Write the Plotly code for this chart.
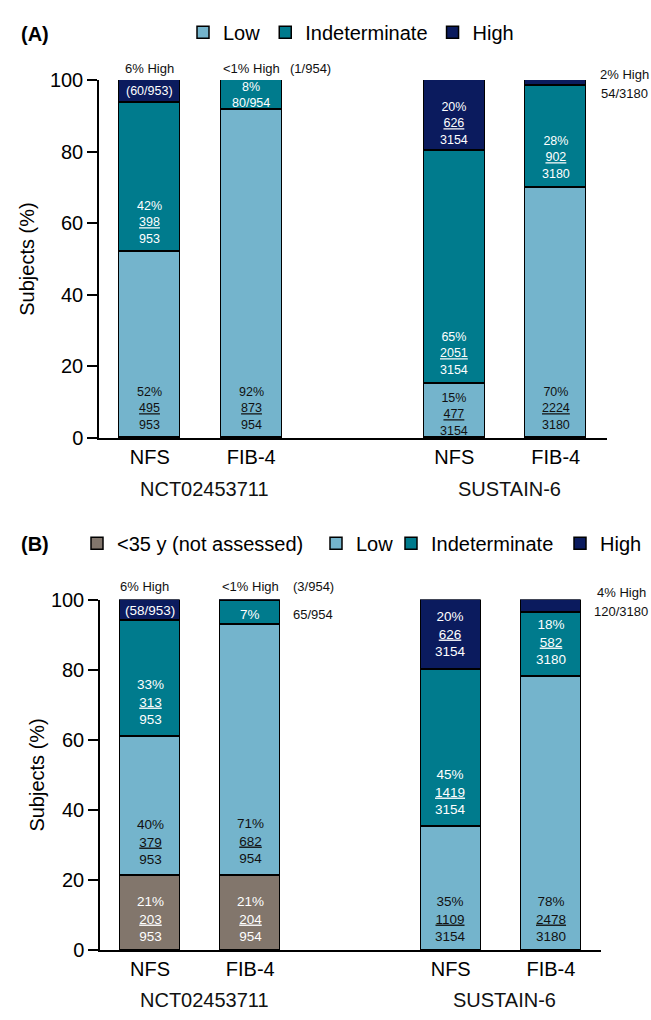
import plotly.graph_objects as go

# ---------------- data ----------------
studies = ["NCT02453711", "SUSTAIN-6"]
methods = ["NFS", "FIB-4", "NFS", "FIB-4"]
totals = [953, 954, 3154, 3180]

# Panel A
a_low = [495, 873, 477, 2224]
a_indeterminate = [398, 80, 2051, 902]
a_high = [60, 1, 626, 54]

# Panel B
b_under35 = [203, 204, None, None]
b_low = [379, 682, 1109, 2478]
b_indeterminate = [313, 65, 1419, 582]
b_high = [58, 3, 626, 120]

y_ticks = [0, 20, 40, 60, 80, 100]

# ---------------- style ----------------
FONT = "Liberation Sans, Arial, Helvetica, sans-serif"
C_UNDER = "#82766C"
C_LOW = "#74B4CC"
C_IND = "#007B8D"
C_HIGH = "#0B1B5E"
W, H = 651, 1020
bar_x = [0, 1, 3, 4]
study_x = [0.54, 3.54]
X_RANGE = [-0.5, 4.5]
DOM_A = [99 / W, 606.5 / W]
DOM_B = [100 / W, 601 / W]


def pct(n, t):
    return None if n is None else n / t * 100


def pcts(counts):
    return [pct(n, t) for n, t in zip(counts, totals)]


def to_paper(xd, dom):
    return dom[0] + (xd - X_RANGE[0]) / (X_RANGE[1] - X_RANGE[0]) * (dom[1] - dom[0])


fig = go.Figure()


def add_bar(name, counts, color, xa, ya, legend):
    fig.add_trace(go.Bar(
        x=bar_x, y=pcts(counts), name=name, width=0.6,
        marker=dict(color=color, line=dict(color="black", width=1.5)),
        xaxis=xa, yaxis=ya, legend=legend, hoverinfo="skip"))


add_bar("Low", a_low, C_LOW, "x", "y", "legend")
add_bar("Indeterminate", a_indeterminate, C_IND, "x", "y", "legend")
add_bar("High", a_high, C_HIGH, "x", "y", "legend")

add_bar("<35 y (not assessed)", b_under35, C_UNDER, "x2", "y2", "legend2")
add_bar("Low", b_low, C_LOW, "x2", "y2", "legend3")
add_bar("Indeterminate", b_indeterminate, C_IND, "x2", "y2", "legend4")
add_bar("High", b_high, C_HIGH, "x2", "y2", "legend5")

anns = []


def ann(x, y, text, xa, ya, color="white", size=12.5, xanchor="center",
        yanchor="middle", yshift=0):
    anns.append(dict(x=x, y=y, xref=xa, yref=ya, text=text, showarrow=False,
                     xanchor=xanchor, yanchor=yanchor, yshift=yshift,
                     font=dict(family=FONT, size=size, color=color)))


def frac3(n, t):
    return f"{round(n / t * 100)}%<br><u>{n}</u><br>{t}"


DARK = "#111111"

# ---- panel A labels ----
xa, ya, fs = "x", "y", 12.5
for i in range(4):
    t = totals[i]
    lo, ind, hi = a_low[i], a_indeterminate[i], a_high[i]
    base_ind = pct(lo, t)
    base_hi = pct(lo + ind, t)
    ann(bar_x[i], 0, frac3(lo, t), xa, ya, color=DARK, size=fs,
        yshift=24 if i == 2 else 30)
    if i == 1:
        ann(bar_x[i], (base_ind + base_hi) / 2,
            f"{round(pct(ind, t))}%<br>{ind}/{t}", xa, ya, size=fs)
    else:
        ann(bar_x[i], base_ind, frac3(ind, t), xa, ya, size=fs, yshift=30)
    if i == 0:
        ann(bar_x[i], (base_hi + 100) / 2, f"({hi}/{t})", xa, ya, size=fs)
        ann(bar_x[i], 100, f"{round(pct(hi, t))}% High", xa, ya,
            color=DARK, size=13, yshift=11)
    elif i == 1:
        ann(bar_x[i] - 0.3, 100, "<1% High", xa, ya,
            color=DARK, size=13, xanchor="left", yshift=11)
        ann(1.36, 100, f"({hi}/{t})", xa, ya,
            color=DARK, size=13, xanchor="left", yshift=11)
    elif i == 2:
        ann(bar_x[i], base_hi, frac3(hi, t), xa, ya, size=fs, yshift=28)
    else:
        px_ = to_paper(4.68, DOM_A)
        ann(px_, 100, f"{round(pct(hi, t))}% High", "paper", ya,
            color=DARK, size=13, yshift=5.5)
        ann(px_, 100, f"{hi}/{t}", "paper", ya, color=DARK, size=13,
            yshift=-13.5)

# ---- panel B labels ----
xa, ya, fs = "x2", "y2", 13.5
for i in range(4):
    t = totals[i]
    yo = b_under35[i] or 0
    lo, ind, hi = b_low[i], b_indeterminate[i], b_high[i]
    base_lo = pct(yo, t)
    base_ind = pct(yo + lo, t)
    base_hi = pct(yo + lo + ind, t)
    if yo:
        ann(bar_x[i], 0, frac3(yo, t), xa, ya, size=fs, yshift=31)
    ann(bar_x[i], base_lo, frac3(lo, t), xa, ya, color=DARK, size=fs,
        yshift=34 if yo else 31)
    if i == 1:
        ann(bar_x[i], (base_ind + base_hi) / 2 - 0.6,
            f"{round(pct(ind, t))}%", xa, ya, size=fs)
        ann(1.41, (base_ind + base_hi) / 2 - 0.6, f"{ind}/{t}", xa, ya,
            color=DARK, size=13, xanchor="left")
    else:
        ann(bar_x[i], base_ind, frac3(ind, t), xa, ya, size=fs, yshift=34.5)
    if i == 0:
        ann(bar_x[i], (base_hi + 100) / 2, f"({hi}/{t})", xa, ya, size=fs)
        ann(bar_x[i] - 0.06, 100, f"{round(pct(hi, t))}% High", xa, ya,
            color=DARK, size=13, yshift=13)
    elif i == 1:
        ann(bar_x[i] - 0.3, 100, "<1% High", xa, ya,
            color=DARK, size=13, xanchor="left", yshift=13)
        ann(1.41, 100, f"({hi}/{t})", xa, ya,
            color=DARK, size=13, xanchor="left", yshift=13)
    elif i == 2:
        ann(bar_x[i], base_hi, frac3(hi, t), xa, ya, size=fs, yshift=35)
    else:
        px_ = to_paper(4.70, DOM_B)
        ann(px_, 100, f"{round(pct(hi, t))}% High", "paper", ya,
            color=DARK, size=13, yshift=7.5)
        ann(px_, 100, f"{hi}/{t}", "paper", ya, color=DARK, size=13,
            yshift=-11.8)

# study group labels
for xa, ya, shift in [("x", "y", -50.5), ("x2", "y2", -50)]:
    for sx, s in zip(study_x, studies):
        ann(sx, 0, s, xa, ya, color=DARK, size=20, yshift=shift)

# panel letters
for letter, ypx in [("(A)", 24), ("(B)", 545)]:
    anns.append(dict(x=19 / W, y=1 - ypx / H, xref="paper", yref="paper",
                     text=f"<b>{letter}</b>", showarrow=False, xanchor="left",
                     yanchor="middle",
                     font=dict(family=FONT, size=20, color="black")))

xcommon = dict(range=X_RANGE, tickvals=bar_x, ticktext=methods,
               showline=True, linecolor="black", linewidth=1.5, ticks="",
               showgrid=False, zeroline=False, fixedrange=True,
               tickfont=dict(family=FONT, size=20, color="black"))
ycommon = dict(range=[0, 100], tickvals=y_ticks, showline=True,
               linecolor="black", linewidth=1.5, ticks="outside", ticklen=10,
               tickwidth=1.5, tickcolor="black", showgrid=False,
               zeroline=False, fixedrange=True,
               tickfont=dict(family=FONT, size=20, color="black"))


def leg(xpx, ypx):
    return dict(orientation="h", xanchor="left", yanchor="middle",
                x=xpx / W, y=1 - ypx / H,
                traceorder="normal", bgcolor="rgba(0,0,0,0)",
                font=dict(family=FONT, size=20, color="black"))


fig.update_layout(
    width=W, height=H, autosize=False,
    margin=dict(l=0, r=0, t=0, b=0),
    paper_bgcolor="white", plot_bgcolor="white",
    barmode="stack", bargap=0,
    font=dict(family=FONT, color="black"),
    xaxis=dict(domain=DOM_A, anchor="y", **xcommon),
    yaxis=dict(domain=[1 - 436.5 / H, 1 - 70.5 / H], anchor="x",
               title=dict(text="Subjects (%)", standoff=10,
                          font=dict(family=FONT, size=20, color="black")),
               **ycommon),
    xaxis2=dict(domain=DOM_B, anchor="y2", **xcommon),
    yaxis2=dict(domain=[1 - 960 / H, 1 - 601.5 / H], anchor="x2",
                title=dict(text="Subjects (%)", standoff=1,
                           font=dict(family=FONT, size=20, color="black")),
                **ycommon),
    legend=leg(183, 21.7),
    legend2=leg(77, 544),
    legend3=leg(316, 544),
    legend4=leg(391, 544),
    legend5=leg(560, 544),
    annotations=anns,
)

fig.write_html(
    "out.html",
    config={"displayModeBar": False},
    post_script="document.body.style.margin='0px';"
                "document.body.style.overflow='hidden';",
)
